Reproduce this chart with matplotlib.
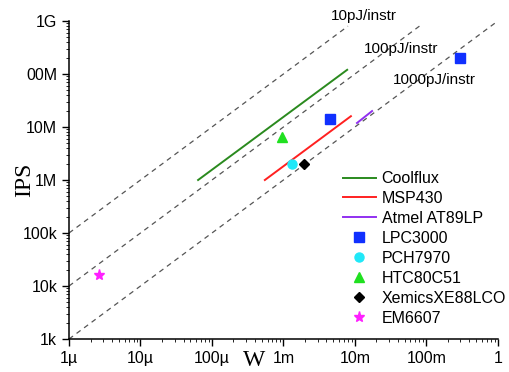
import numpy as np
import matplotlib
matplotlib.use("Agg")
import matplotlib.pyplot as plt

# energy per instruction guide lines (J/instr) and their labels
guide_e = [10e-12, 100e-12, 1000e-12]
guide_wmax = [8e-3, 8.9e-2, 1.0]
guide_lbl = ["10pJ/instr", "100pJ/instr", "1000pJ/instr"]

# processors drawn as ranges: (W start, W end), (IPS start, IPS end)
coolflux_w = [6.4e-5, 7.8e-3]
coolflux_ips = [1.0e6, 1.2e8]
msp430_w = [5.5e-4, 8.8e-3]
msp430_ips = [1.0e6, 1.6e7]
atmel_w = [1.07e-2, 1.74e-2]
atmel_ips = [1.19e7, 2.0e7]

# single points
lpc3000_w = [0.30, 4.5e-3]
lpc3000_ips = [2.0e8, 1.4e7]
pch7970_w = [1.3e-3]
pch7970_ips = [2.0e6]
htc_w = [9.5e-4]
htc_ips = [6.5e6]
xemics_w = [1.95e-3]
xemics_ips = [2.0e6]
em6607_w = [2.6e-6]
em6607_ips = [1.6e4]

xticks = [1e-6, 1e-5, 1e-4, 1e-3, 1e-2, 1e-1, 1]
xlabels = ["1µ", "10µ", "100µ", "1m", "10m", "100m", "1"]
yticks = [1e3, 1e4, 1e5, 1e6, 1e7, 1e8, 1e9]
ylabels = ["1k", "10k", "100k", "1M", "10M", "00M", "1G"]

plt.rcParams['font.family'] = ['Liberation Sans', 'DejaVu Sans']

fig = plt.figure(figsize=(5.09, 3.72), dpi=100)
ax = fig.add_axes([0.1356, 0.0887, 0.978 - 0.1356, 0.9435 - 0.0887])
ax.set_xscale('log')
ax.set_yscale('log')

for e, wmax in zip(guide_e, guide_wmax):
    w = np.array([1e-6, wmax])
    ax.plot(w, w / e, color='#555555', lw=0.9, ls=(0, (4, 3.5)))

# label positions in pixels of the 509x372 figure
lbl_xy = [(364, 16), (401, 49), (434, 80)]
for (px, py), t in zip(lbl_xy, guide_lbl):
    fig.text(px / 509, 1 - py / 372, t, fontsize=11, ha='center', va='center')

ax.plot(coolflux_w, coolflux_ips, color='#2a8a1e', lw=1.4, label='Coolflux')
ax.plot(msp430_w, msp430_ips, color='#ff2020', lw=1.4, label='MSP430')
ax.plot(atmel_w, atmel_ips, color='#9030f0', lw=1.4, label='Atmel AT89LP')
ax.plot(lpc3000_w, lpc3000_ips, 's', color='#1030ff', ms=7, ls='none', label='LPC3000')
ax.plot(pch7970_w, pch7970_ips, 'o', color='#20e8f8', ms=6.5, ls='none', label='PCH7970')
ax.plot(htc_w, htc_ips, '^', color='#20e020', ms=7, ls='none', label='HTC80C51')
ax.plot(xemics_w, xemics_ips, 'D', color='black', ms=5, ls='none', label='XemicsXE88LCO')
ax.plot(em6607_w, em6607_ips, '*', color='#ff20ff', ms=8, ls='none', label='EM6607')

ax.set_xlim(1e-6, 1)
ax.set_ylim(1e3, 1e9)
ax.set_xticks(xticks)
ax.set_xticklabels(xlabels, fontsize=11.5)
ax.set_yticks(yticks)
ax.set_yticklabels(ylabels, fontsize=11.5)
ax.tick_params(which='major', direction='out', length=5, width=1)
ax.tick_params(which='minor', direction='out', length=2.5, width=0.6)
for s in ['top', 'right']:
    ax.spines[s].set_visible(False)
for s in ['left', 'bottom']:
    ax.spines[s].set_linewidth(1.1)

fig.text(254 / 509, 1 - 360 / 372, 'W', family=['Liberation Serif', 'DejaVu Serif'],
         fontsize=17, ha='center', va='center')
fig.text(25 / 509, 1 - 180 / 372, 'IPS', family=['Liberation Serif', 'DejaVu Serif'],
         fontsize=17, ha='center', va='center', rotation=90)

leg = ax.legend(loc='upper left', bbox_to_anchor=(0.638, 0.528), frameon=False,
                fontsize=11.5, handlelength=2.1, handletextpad=0.35,
                labelspacing=0.31, borderaxespad=0, borderpad=0)

fig.savefig('out.png', dpi=100)
